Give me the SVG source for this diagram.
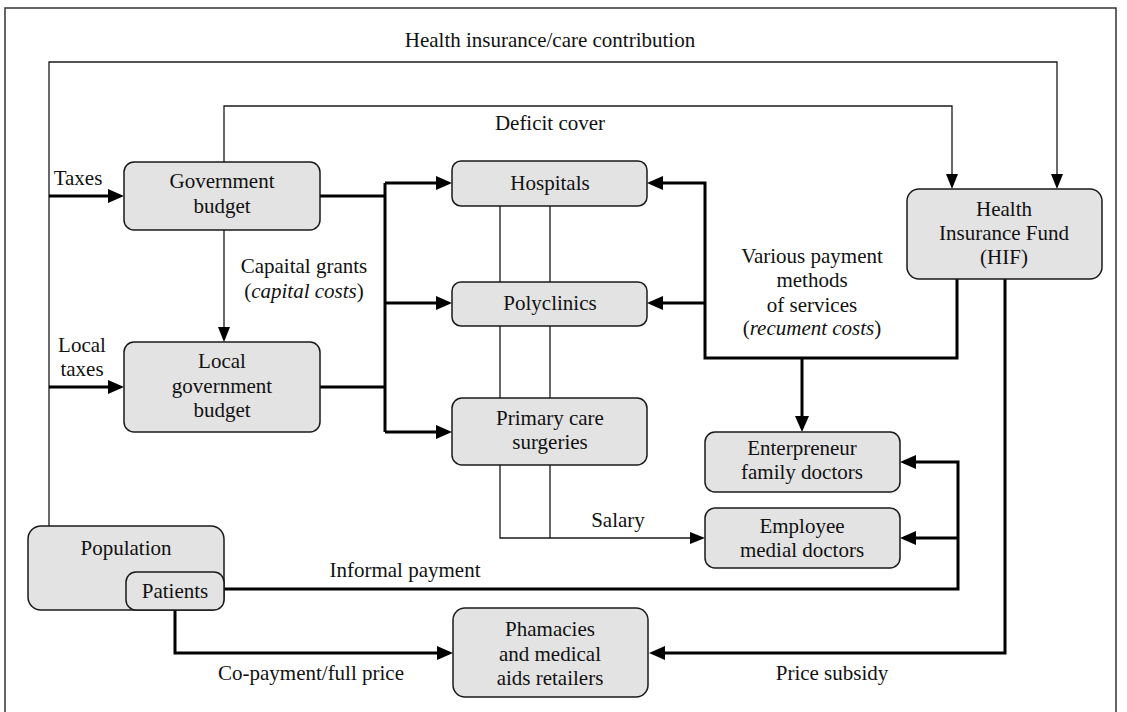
<svg xmlns="http://www.w3.org/2000/svg" width="1127" height="712" viewBox="0 0 1127 712">
<style>
text{font-family:'Liberation Serif','Times New Roman','DejaVu Serif',serif;font-size:21px;fill:#111;text-anchor:middle}
.box{fill:#e3e3e3;stroke:#1a1a1a;stroke-width:1.5}
.thin{fill:none;stroke:#1a1a1a;stroke-width:1.3}
.thick{fill:none;stroke:#000;stroke-width:3}
.it{font-style:italic}
</style>
<defs>
<marker id="ak" markerUnits="userSpaceOnUse" markerWidth="17" markerHeight="15" refX="12" refY="7" orient="auto">
<path d="M0,0 L16,7 L0,14 Z" fill="#000"/>
</marker>
<marker id="at" markerUnits="userSpaceOnUse" markerWidth="16" markerHeight="13" refX="13" refY="6" orient="auto">
<path d="M0,0 L15,6 L0,12 Z" fill="#000"/>
</marker>
</defs>
<rect x="5" y="8" width="1111" height="710" fill="#fff" stroke="#333" stroke-width="1.5"/>
<g id="connectors">
<path class="thin" d="M49,526 V62 H1057 V187" marker-end="url(#at)"/>
<path class="thin" d="M224,162 V106 H952 V187" marker-end="url(#at)"/>
<path class="thin" d="M224,230 V340" marker-end="url(#at)"/>
<path class="thin" d="M500,206 V538 H703" marker-end="url(#at)"/>
<path class="thin" d="M550,206 V538"/>
<path class="thick" d="M49,196 H120" marker-end="url(#ak)"/>
<path class="thick" d="M49,387 H120" marker-end="url(#ak)"/>
<path class="thick" d="M320,196 H385"/>
<path class="thick" d="M320,387 H385"/>
<path class="thick" d="M385,183 V432"/>
<path class="thick" d="M385,183 H448" marker-end="url(#ak)"/>
<path class="thick" d="M385,303 H448" marker-end="url(#ak)"/>
<path class="thick" d="M385,432 H448" marker-end="url(#ak)"/>
<path class="thick" d="M957,279 V358 H705 V183 H651" marker-end="url(#ak)"/>
<path class="thick" d="M705,303 H651" marker-end="url(#ak)"/>
<path class="thick" d="M802,358 V428" marker-end="url(#ak)"/>
<path class="thick" d="M1005,279 V653 H653" marker-end="url(#ak)"/>
<path class="thick" d="M224,589 H958 V462 H904" marker-end="url(#ak)"/>
<path class="thick" d="M958,538 H904" marker-end="url(#ak)"/>
<path class="thick" d="M175,610 V653 H449" marker-end="url(#ak)"/>
</g>
<g id="labels" font-family="Liberation Serif, serif">
<text x="550" y="47">Health insurance/care contribution</text>
<text x="550" y="130">Deficit cover</text>
<text x="78" y="185">Taxes</text>
<text x="82" y="352">Local</text>
<text x="82" y="376">taxes</text>
<text x="304" y="273">Capaital grants</text>
<text x="304" y="298">(<tspan class="it">capital costs</tspan>)</text>
<text x="812" y="263">Various payment</text>
<text x="812" y="287">methods</text>
<text x="812" y="312">of services</text>
<text x="812" y="335">(<tspan class="it">recument costs</tspan>)</text>
<text x="618" y="527">Salary</text>
<text x="405" y="577">Informal payment</text>
<text x="311" y="680">Co-payment/full price</text>
<text x="832" y="680">Price subsidy</text>
</g>
<g id="gov">
<rect class="box" x="124" y="162" width="196" height="68" rx="10"/>
<text x="222" y="188">Government</text>
<text x="222" y="213">budget</text>
</g>
<g id="local">
<rect class="box" x="124" y="342" width="196" height="90" rx="10"/>
<text x="222" y="368">Local</text>
<text x="222" y="393">government</text>
<text x="222" y="417">budget</text>
</g>
<g id="hospitals">
<rect class="box" x="452" y="161" width="195" height="45" rx="9"/>
<text x="550" y="190">Hospitals</text>
</g>
<g id="polyclinics">
<rect class="box" x="452" y="282" width="195" height="44" rx="9"/>
<text x="550" y="310">Polyclinics</text>
</g>
<g id="primary">
<rect class="box" x="452" y="398" width="195" height="67" rx="10"/>
<text x="550" y="425">Primary care</text>
<text x="550" y="449">surgeries</text>
</g>
<g id="hif">
<rect class="box" x="907" y="189" width="195" height="90" rx="12"/>
<text x="1004" y="216">Health</text>
<text x="1004" y="240">Insurance Fund</text>
<text x="1004" y="264">(HIF)</text>
</g>
<g id="entrepreneur">
<rect class="box" x="705" y="432" width="195" height="60" rx="10"/>
<text x="802" y="455">Enterpreneur</text>
<text x="802" y="479">family doctors</text>
</g>
<g id="employee">
<rect class="box" x="705" y="508" width="195" height="60" rx="10"/>
<text x="802" y="533">Employee</text>
<text x="802" y="557">medial doctors</text>
</g>
<g id="population">
<rect class="box" x="28" y="526" width="196" height="84" rx="13"/>
<text x="126" y="555">Population</text>
</g>
<g id="patients">
<rect class="box" x="126" y="572" width="98" height="38" rx="10"/>
<text x="175" y="598">Patients</text>
</g>
<g id="pharmacies">
<rect class="box" x="453" y="608" width="195" height="89" rx="12"/>
<text x="550" y="636">Phamacies</text>
<text x="550" y="661">and medical</text>
<text x="550" y="685">aids retailers</text>
</g>
</svg>
